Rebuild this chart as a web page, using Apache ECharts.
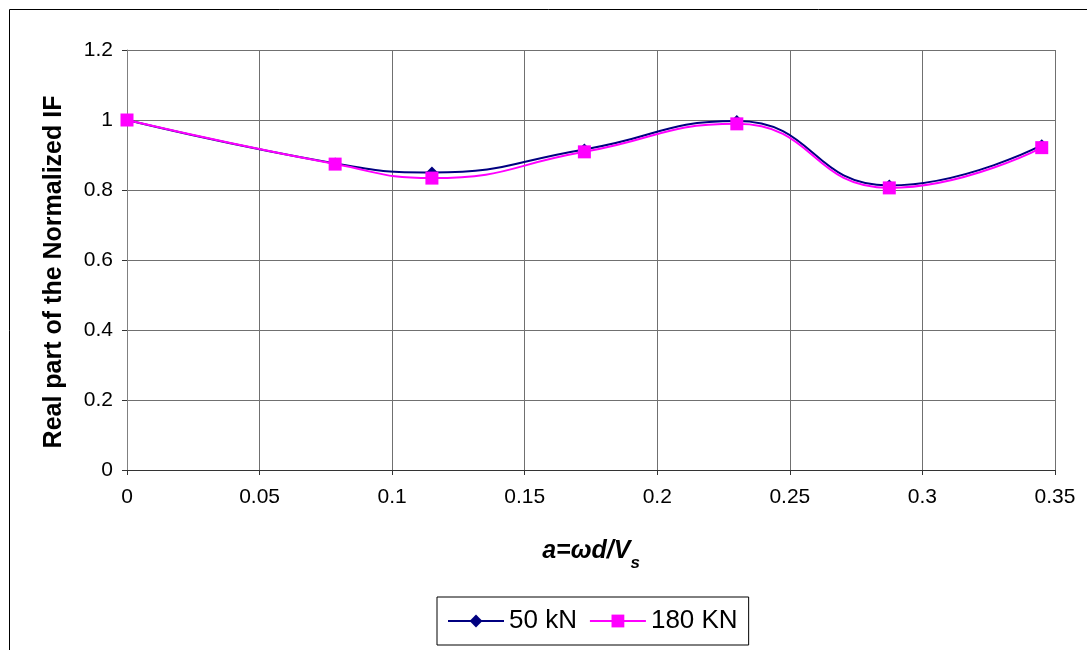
<!DOCTYPE html>
<html>
<head>
<meta charset="utf-8">
<script src="https://cdn.jsdelivr.net/npm/echarts@6/dist/echarts.min.js"></script>
<style>
  html, body { margin: 0; padding: 0; background: #fff; }
  #chart { width: 1087px; height: 650px; }
</style>
</head>
<body>
<div id="chart"></div>
<script>
// Dimensionless frequency a = ωd/Vs
const freqs = [0, 0.0785, 0.115, 0.1725, 0.23, 0.2875, 0.345];
// Real part of the normalized impedance function for each load
const load50kN = [1.0, 0.876, 0.850, 0.916, 0.997, 0.813, 0.928];
const load180KN = [1.0, 0.874, 0.834, 0.909, 0.989, 0.806, 0.921];
const seriesNames = ['50 kN', '180 KN'];
const yTicks = { min: 0, max: 1.2, step: 0.2 };
const xTicks = { min: 0, max: 0.35, step: 0.05 };

const FONT = '"Liberation Sans", Arial, Helvetica, sans-serif';
const pairs = (xs, ys) => xs.map((x, i) => [x, ys[i]]);

const chart = echarts.init(document.getElementById('chart'), null, { renderer: 'canvas' });

chart.setOption({
  animation: false,
  backgroundColor: '#fff',
  textStyle: { fontFamily: FONT },
  graphic: [{
    type: 'rect',
    silent: true,
    shape: { x: 9.5, y: 9.5, width: 1100, height: 700 },
    style: { fill: 'none', stroke: '#000', lineWidth: 1 }
  }],
  grid: { left: 127, right: 32, top: 50, bottom: 180, containLabel: false },
  xAxis: {
    type: 'value',
    min: xTicks.min, max: xTicks.max, interval: xTicks.step,
    name: '{a|a=ωd/V}{s|s}',
    nameLocation: 'middle',
    nameGap: 64,
    nameTextStyle: {
      rich: {
        a: { fontFamily: FONT, fontSize: 25, fontWeight: 'bold', fontStyle: 'italic', color: '#000', lineHeight: 30, verticalAlign: 'bottom' },
        s: { fontFamily: FONT, fontSize: 17, fontWeight: 'bold', fontStyle: 'italic', color: '#000', lineHeight: 30, verticalAlign: 'bottom', padding: [0, 0, -8, 0] }
      }
    },
    axisLine: { show: true, onZero: false, lineStyle: { color: '#333', width: 1 } },
    axisTick: { show: true, inside: false, length: 5, lineStyle: { color: '#333' } },
    axisLabel: { fontFamily: FONT, fontSize: 21, color: '#000', margin: 17 },
    splitLine: { show: true, lineStyle: { color: '#707070', width: 1 } }
  },
  yAxis: {
    type: 'value',
    min: yTicks.min, max: yTicks.max, interval: yTicks.step,
    name: 'Real part of the Normalized IF',
    nameLocation: 'middle',
    nameGap: 60,
    nameTextStyle: { fontFamily: FONT, fontSize: 25, fontWeight: 'bold', color: '#000', padding: [0, 24, 0, 0] },
    axisLine: { show: true, onZero: false, lineStyle: { color: '#808080', width: 1 } },
    axisTick: { show: true, inside: false, length: 5, lineStyle: { color: '#333' } },
    axisLabel: { fontFamily: FONT, fontSize: 21, color: '#000', margin: 14 },
    splitLine: { show: true, lineStyle: { color: '#707070', width: 1 } }
  },
  legend: {
    left: 437,
    top: 597,
    orient: 'horizontal',
    padding: [11, 11, 11, 10],
    borderColor: '#000',
    borderWidth: 1,
    itemWidth: 56,
    itemHeight: 16,
    itemGap: 12,
    textStyle: { fontFamily: FONT, fontSize: 26, color: '#000', lineHeight: 26 },
    data: seriesNames
  },
  series: [
    {
      name: seriesNames[0],
      type: 'line',
      data: pairs(freqs, load50kN),
      smooth: 0.5,
      symbol: 'diamond',
      symbolSize: 12,
      lineStyle: { color: '#000080', width: 2 },
      itemStyle: { color: '#000080' },
      z: 2
    },
    {
      name: seriesNames[1],
      type: 'line',
      data: pairs(freqs, load180KN),
      smooth: 0.5,
      symbol: 'rect',
      symbolSize: 13,
      lineStyle: { color: '#FF00FF', width: 2 },
      itemStyle: { color: '#FF00FF' },
      z: 3
    }
  ]
});
</script>
</body>
</html>
